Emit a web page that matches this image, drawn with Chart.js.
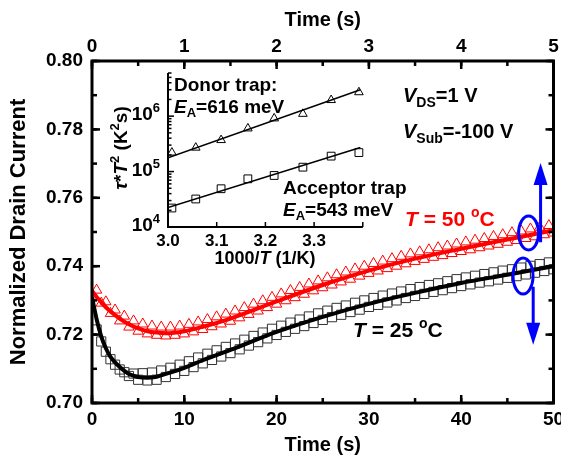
<!DOCTYPE html>
<html>
<head>
<meta charset="utf-8">
<script src="https://cdn.jsdelivr.net/npm/chart.js@4.4.1/dist/chart.umd.min.js"></script>
<style>
  body { margin: 0; background: #fff; }
  #wrap { position: relative; width: 561px; height: 457px; }
  #main { position: absolute; left: 0; top: 0; }
  #inset { position: absolute; left: 100px; top: 60px; }
</style>
</head>
<body>
<div id="wrap">
  <canvas id="main" width="561" height="457"></canvas>
  <canvas id="inset" width="320" height="210"></canvas>
</div>
<script>
// transient of the normalized drain current (sampled every 0.5 s)
const timeS = [0.5, 1, 1.5, 2, 2.5, 3, 3.5, 4, 4.5, 5, 5.5, 6, 6.5, 7, 7.5, 8, 8.5, 9, 9.5, 10,
  10.5, 11, 11.5, 12, 12.5, 13, 13.5, 14, 14.5, 15, 15.5, 16, 16.5, 17, 17.5, 18, 18.5, 19, 19.5, 20,
  20.5, 21, 21.5, 22, 22.5, 23, 23.5, 24, 24.5, 25, 25.5, 26, 26.5, 27, 27.5, 28, 28.5, 29, 29.5, 30,
  30.5, 31, 31.5, 32, 32.5, 33, 33.5, 34, 34.5, 35, 35.5, 36, 36.5, 37, 37.5, 38, 38.5, 39, 39.5, 40,
  40.5, 41, 41.5, 42, 42.5, 43, 43.5, 44, 44.5, 45, 45.5, 46, 46.5, 47, 47.5, 48, 48.5, 49, 49.5, 50];

const drain50C = [0.7330, 0.7292, 0.7296, 0.7262, 0.7272, 0.7240, 0.7254, 0.7222, 0.7240, 0.7210,
  0.7231, 0.7202, 0.7225, 0.7198, 0.7222, 0.7196, 0.7222, 0.7198, 0.7225, 0.7202,
  0.7230, 0.7208, 0.7237, 0.7215, 0.7244, 0.7223, 0.7252, 0.7231, 0.7260, 0.7239,
  0.7269, 0.7249, 0.7279, 0.7259, 0.7289, 0.7269, 0.7299, 0.7279, 0.7309, 0.7289,
  0.7319, 0.7299, 0.7329, 0.7308, 0.7338, 0.7318, 0.7348, 0.7328, 0.7357, 0.7337,
  0.7366, 0.7345, 0.7375, 0.7354, 0.7383, 0.7362, 0.7392, 0.7371, 0.7400, 0.7379,
  0.7408, 0.7386, 0.7415, 0.7393, 0.7422, 0.7400, 0.7429, 0.7407, 0.7436, 0.7414,
  0.7442, 0.7420, 0.7448, 0.7426, 0.7454, 0.7431, 0.7459, 0.7437, 0.7465, 0.7443,
  0.7471, 0.7448, 0.7476, 0.7454, 0.7481, 0.7459, 0.7487, 0.7464, 0.7492, 0.7470,
  0.7498, 0.7475, 0.7503, 0.7481, 0.7509, 0.7486, 0.7514, 0.7492, 0.7519, 0.7497];

const drain25C = [0.7215, 0.7180, 0.7150, 0.7128, 0.7112, 0.7098, 0.7090, 0.7079, 0.7086, 0.7068,
  0.7087, 0.7066, 0.7089, 0.7068, 0.7095, 0.7076, 0.7103, 0.7085, 0.7112, 0.7094,
  0.7122, 0.7105, 0.7133, 0.7116, 0.7144, 0.7126, 0.7154, 0.7136, 0.7164, 0.7146,
  0.7174, 0.7157, 0.7185, 0.7168, 0.7196, 0.7178, 0.7206, 0.7189, 0.7217, 0.7199,
  0.7226, 0.7208, 0.7235, 0.7217, 0.7244, 0.7225, 0.7253, 0.7234, 0.7262, 0.7243,
  0.7270, 0.7251, 0.7278, 0.7258, 0.7285, 0.7266, 0.7293, 0.7273, 0.7300, 0.7281,
  0.7307, 0.7287, 0.7314, 0.7294, 0.7320, 0.7300, 0.7326, 0.7307, 0.7333, 0.7313,
  0.7339, 0.7319, 0.7345, 0.7325, 0.7350, 0.7330, 0.7356, 0.7336, 0.7362, 0.7342,
  0.7367, 0.7347, 0.7372, 0.7352, 0.7377, 0.7356, 0.7382, 0.7361, 0.7387, 0.7366,
  0.7391, 0.7371, 0.7396, 0.7376, 0.7401, 0.7381, 0.7406, 0.7386, 0.7411, 0.7391];

// fitted curves
const fitT = [0, 0.5, 1, 1.5, 2, 3, 4, 5, 6, 7, 8, 10, 12, 15, 20, 25, 30, 35, 40, 45, 50];
const fit50C = [0.7328, 0.7310, 0.7295, 0.7280, 0.7268, 0.7247, 0.7230, 0.7218, 0.7210, 0.7206, 0.7204,
  0.7210, 0.7223, 0.7247, 0.7297, 0.7345, 0.7387, 0.7422, 0.7451, 0.7478, 0.7505];
const fit25C = [0.7310, 0.7245, 0.7195, 0.7160, 0.7135, 0.7105, 0.7085, 0.7076, 0.7074, 0.7077, 0.7085,
  0.7103, 0.7125, 0.7155, 0.7208, 0.7252, 0.7290, 0.7322, 0.7351, 0.7375, 0.7400];

// Arrhenius plot (inset)
const invT = [3.008, 3.057, 3.109, 3.164, 3.218, 3.277, 3.335, 3.392];
const donorTau = [2.2e5, 2.7e5, 3.7e5, 6.0e5, 9.1e5, 1.1e6, 1.95e6, 2.7e6];
const acceptorTau = [2.2e4, 3.2e4, 4.9e4, 7.4e4, 8.5e4, 1.2e5, 1.9e5, 2.2e5];
const donorEa = 0.616, acceptorEa = 0.543;   // eV
const donorLogAt32 = 5.87, acceptorLogAt32 = 4.90;
const fitInvT = [3.0, 3.395];

const kB = 8.617e-5;
function arrheniusLine(ea, logAt32) {
  const slope = ea / kB / 1000 / Math.LN10;   // decades per unit of 1000/T
  return fitInvT.map(x => ({ x: x, y: Math.pow(10, logAt32 + slope * (x - 3.2)) }));
}

const FAM = '"Liberation Sans", Arial, Helvetica, sans-serif';
const f = (s, st) => (st || 'bold') + ' ' + s + 'px ' + FAM;

function drawRuns(ctx, runs, x, y, align) {
  let w = 0;
  runs.forEach(r => { ctx.font = r[1]; w += ctx.measureText(r[0]).width; });
  let cx = align === 'center' ? x - w / 2 : align === 'right' ? x - w : x;
  runs.forEach(r => {
    ctx.font = r[1];
    ctx.fillText(r[0], cx, y + (r[2] || 0));
    cx += ctx.measureText(r[0]).width;
  });
}

function tickRow(ctx, scale, a, side, from, to, step, len) {
  const n = Math.round((to - from) / step);
  for (let i = 0; i <= n; i++) {
    const p = scale.getPixelForValue(from + i * step);
    ctx.beginPath();
    if (side === 'bottom') { ctx.moveTo(p, a.bottom); ctx.lineTo(p, a.bottom - len); }
    if (side === 'top') { ctx.moveTo(p, a.top); ctx.lineTo(p, a.top + len); }
    if (side === 'left') { ctx.moveTo(a.left, p); ctx.lineTo(a.left + len, p); }
    if (side === 'right') { ctx.moveTo(a.right, p); ctx.lineTo(a.right - len, p); }
    ctx.stroke();
  }
}

const mainDecor = {
  id: 'mainDecor',
  afterDraw(chart) {
    const { ctx, chartArea: a, scales } = chart;
    const { x, x2, y } = scales;
    ctx.save();
    ctx.strokeStyle = '#000';
    ctx.lineWidth = 2.5;
    tickRow(ctx, x, a, 'bottom', 0, 50, 5, 5);
    tickRow(ctx, x, a, 'bottom', 0, 50, 10, 8);
    tickRow(ctx, x2, a, 'top', 0, 5, 0.5, 5);
    tickRow(ctx, x2, a, 'top', 0, 5, 1, 8);
    ['left', 'right'].forEach(s => {
      tickRow(ctx, y, a, s, 0.70, 0.80, 0.01, 5);
      tickRow(ctx, y, a, s, 0.70, 0.80, 0.02, 8);
    });
    ctx.lineWidth = 3;
    ctx.strokeRect(a.left, a.top, a.right - a.left, a.bottom - a.top);

    // labels inside the plot
    ctx.fillStyle = '#000';
    ctx.textBaseline = 'alphabetic';
    drawRuns(ctx, [['V', f(20, 'italic bold')], ['DS', f(14), 5], ['=1 V', f(20)]], 403, 102);
    drawRuns(ctx, [['V', f(20, 'italic bold')], ['Sub', f(14), 5], ['=-100 V', f(20)]], 403, 138);
    ctx.fillStyle = '#ff0000';
    drawRuns(ctx, [['T', f(21, 'italic bold')], [' = 50 ', f(21)], ['o', f(14), -9], ['C', f(21)]], 405, 226);
    ctx.fillStyle = '#000';
    drawRuns(ctx, [['T', f(21, 'italic bold')], [' = 25 ', f(21)], ['o', f(14), -9], ['C', f(21)]], 353, 337);

    // blue markers: which curve goes with which axis
    ctx.strokeStyle = '#0000ff';
    ctx.fillStyle = '#0000ff';
    ctx.lineWidth = 3;
    const rings = [[47.3, 0.7497, 10, 17], [46.7, 0.7371, 10, 18]];
    rings.forEach(r => {
      ctx.beginPath();
      ctx.ellipse(x.getPixelForValue(r[0]), y.getPixelForValue(r[1]), r[2], r[3], 0, 0, Math.PI * 2);
      ctx.stroke();
    });
    const arrows = [[48.6, 0.7470, 0.7702], [47.8, 0.7340, 0.7170]];
    arrows.forEach(ar => {
      const px = x.getPixelForValue(ar[0]);
      const y0 = y.getPixelForValue(ar[1]), y1 = y.getPixelForValue(ar[2]);
      const dir = y1 < y0 ? 1 : -1;
      ctx.beginPath();
      ctx.moveTo(px, y0);
      ctx.lineTo(px, y1 + dir * 18);
      ctx.stroke();
      ctx.beginPath();
      ctx.moveTo(px, y1);
      ctx.lineTo(px - 7, y1 + dir * 22);
      ctx.lineTo(px + 7, y1 + dir * 22);
      ctx.closePath();
      ctx.fill();
    });
    ctx.restore();
  }
};

const tickFont = { family: FAM, size: 19, weight: 'bold' };
const titleFont = { family: FAM, size: 20, weight: 'bold' };
const noGrid = { display: false, drawTicks: false };

new Chart(document.getElementById('main'), {
  type: 'scatter',
  data: {
    datasets: [
      { label: 'fit 50', data: fitT.map((t, i) => ({ x: t, y: fit50C[i] })), showLine: true,
        borderColor: '#ff0000', borderWidth: 4, pointRadius: 0, cubicInterpolationMode: 'monotone', order: 0 },
      { label: 'fit 25', data: fitT.map((t, i) => ({ x: t, y: fit25C[i] })), showLine: true,
        borderColor: '#000', borderWidth: 4, pointRadius: 0, cubicInterpolationMode: 'monotone', order: 0 },
      { label: '50 C', data: timeS.map((t, i) => ({ x: t, y: drain50C[i] })), pointStyle: 'triangle',
        pointRadius: 6, borderColor: '#ff0000', backgroundColor: 'rgba(0,0,0,0)', pointBorderWidth: 1, order: 1 },
      { label: '25 C', data: timeS.map((t, i) => ({ x: t, y: drain25C[i] })), pointStyle: 'rect',
        pointRadius: 6.5, borderColor: '#333', backgroundColor: 'rgba(0,0,0,0)', pointBorderWidth: 1, order: 1 }
    ]
  },
  options: {
    responsive: false,
    animation: false,
    layout: { padding: { left: 0, right: 7, top: 0, bottom: 0 } },
    plugins: { legend: { display: false }, tooltip: { enabled: false } },
    scales: {
      x: {
        type: 'linear', position: 'bottom', min: 0, max: 50,
        ticks: { stepSize: 10, font: tickFont, color: '#000', padding: 5, maxRotation: 0 },
        grid: noGrid, border: { display: false },
        title: { display: true, text: 'Time (s)', font: titleFont, color: '#000', padding: 0 },
        afterFit: s => { s.height = 54; s.paddingLeft = 0; s.paddingRight = 0; }
      },
      x2: {
        type: 'linear', position: 'top', min: 0, max: 5,
        ticks: { stepSize: 1, font: tickFont, color: '#000', padding: 3, maxRotation: 0 },
        grid: noGrid, border: { display: false },
        title: { display: true, text: 'Time (s)', font: titleFont, color: '#000', padding: { top: 8, bottom: 0 } },
        afterFit: s => { s.height = 61; s.paddingLeft = 0; s.paddingRight = 0; }
      },
      y: {
        min: 0.70, max: 0.80,
        ticks: { stepSize: 0.02, font: tickFont, color: '#000', padding: 9, callback: v => v.toFixed(2) },
        grid: noGrid, border: { display: false },
        title: { display: true, text: 'Normalized Drain Current', font: { family: FAM, size: 22, weight: 'bold' },
          color: '#000', padding: { top: 6, bottom: 0 } },
        afterFit: s => { s.width = 92; s.paddingTop = 0; s.paddingBottom = 0; }
      }
    }
  },
  plugins: [mainDecor]
});

const insetDecor = {
  id: 'insetDecor',
  afterDraw(chart) {
    const { ctx, chartArea: a, scales } = chart;
    const { x, y } = scales;
    ctx.save();
    ctx.strokeStyle = '#000';
    ctx.lineWidth = 1.5;
    // log ticks on the left axis
    for (let d = 4; d <= 6; d++) {
      for (let m = 1; m <= 9; m++) {
        const v = m * Math.pow(10, d);
        if (v > y.max) break;
        const p = y.getPixelForValue(v);
        ctx.beginPath();
        ctx.moveTo(a.left, p);
        ctx.lineTo(a.left + (m === 1 ? 6 : 3.5), p);
        ctx.stroke();
      }
    }
    tickRow(ctx, x, a, 'bottom', 3.0, 3.4, 0.1, 5);
    ctx.lineWidth = 2;
    ctx.beginPath();
    ctx.moveTo(a.left, a.top);
    ctx.lineTo(a.left, a.bottom);
    ctx.lineTo(a.right, a.bottom);
    ctx.stroke();

    ctx.fillStyle = '#000';
    ctx.textBaseline = 'alphabetic';
    [4, 5, 6].forEach(d => {
      const p = y.getPixelForValue(Math.pow(10, d));
      drawRuns(ctx, [['10', f(19)], [String(d), f(13), -8]], a.left - 8, p + 4, 'right');
    });
    drawRuns(ctx, [['1000/', f(18)], ['T', f(18, 'italic bold')], [' (1/K)', f(18)]], 165, 204, 'center');
    ctx.save();
    ctx.translate(27, 88);
    ctx.rotate(-Math.PI / 2);
    drawRuns(ctx, [['\u03c4', f(19, 'italic bold')], ['*', f(19)], ['T', f(19, 'italic bold')], ['2', f(13), -8],
      [' (K', f(19)], ['2', f(13), -8], ['s)', f(19)]], 0, 0, 'center');
    ctx.restore();

    drawRuns(ctx, [['Donor trap:', f(19)]], 74, 31);
    drawRuns(ctx, [['E', f(19, 'italic bold')], ['A', f(13), 4], ['=616 meV', f(19)]], 74, 53);
    drawRuns(ctx, [['Acceptor trap', f(19)]], 183, 134);
    drawRuns(ctx, [['E', f(19, 'italic bold')], ['A', f(13), 4], ['=543 meV', f(19)]], 183, 156);
    ctx.restore();
  }
};

new Chart(document.getElementById('inset'), {
  type: 'scatter',
  data: {
    datasets: [
      { data: arrheniusLine(donorEa, donorLogAt32), showLine: true, borderColor: '#000', borderWidth: 1.5, pointRadius: 0 },
      { data: arrheniusLine(acceptorEa, acceptorLogAt32), showLine: true, borderColor: '#000', borderWidth: 1.5, pointRadius: 0 },
      { data: invT.map((v, i) => ({ x: v, y: donorTau[i] })), pointStyle: 'triangle', pointRadius: 5,
        borderColor: '#000', backgroundColor: 'rgba(0,0,0,0)', pointBorderWidth: 1, clip: false },
      { data: invT.map((v, i) => ({ x: v, y: acceptorTau[i] })), pointStyle: 'rect', pointRadius: 5.5,
        borderColor: '#000', backgroundColor: 'rgba(0,0,0,0)', pointBorderWidth: 1, clip: false }
    ]
  },
  options: {
    responsive: false,
    animation: false,
    layout: { padding: { left: 0, right: 57.2, top: 13, bottom: 0 } },
    plugins: { legend: { display: false }, tooltip: { enabled: false } },
    scales: {
      x: {
        type: 'linear', min: 3.0, max: 3.4,
        ticks: { stepSize: 0.1, font: { family: FAM, size: 17, weight: 'bold' }, color: '#000', padding: 4,
          maxRotation: 0, callback: v => (v > 3.35 ? '' : v.toFixed(1)) },
        grid: noGrid, border: { display: false },
        afterFit: s => { s.height = 43; s.paddingLeft = 0; s.paddingRight = 0; }
      },
      y: {
        type: 'logarithmic', min: 1e4, max: 6e6,
        ticks: { display: false },
        grid: noGrid, border: { display: false },
        afterFit: s => { s.width = 68; s.paddingTop = 0; s.paddingBottom = 0; }
      }
    }
  },
  plugins: [insetDecor]
});
</script>
</body>
</html>
